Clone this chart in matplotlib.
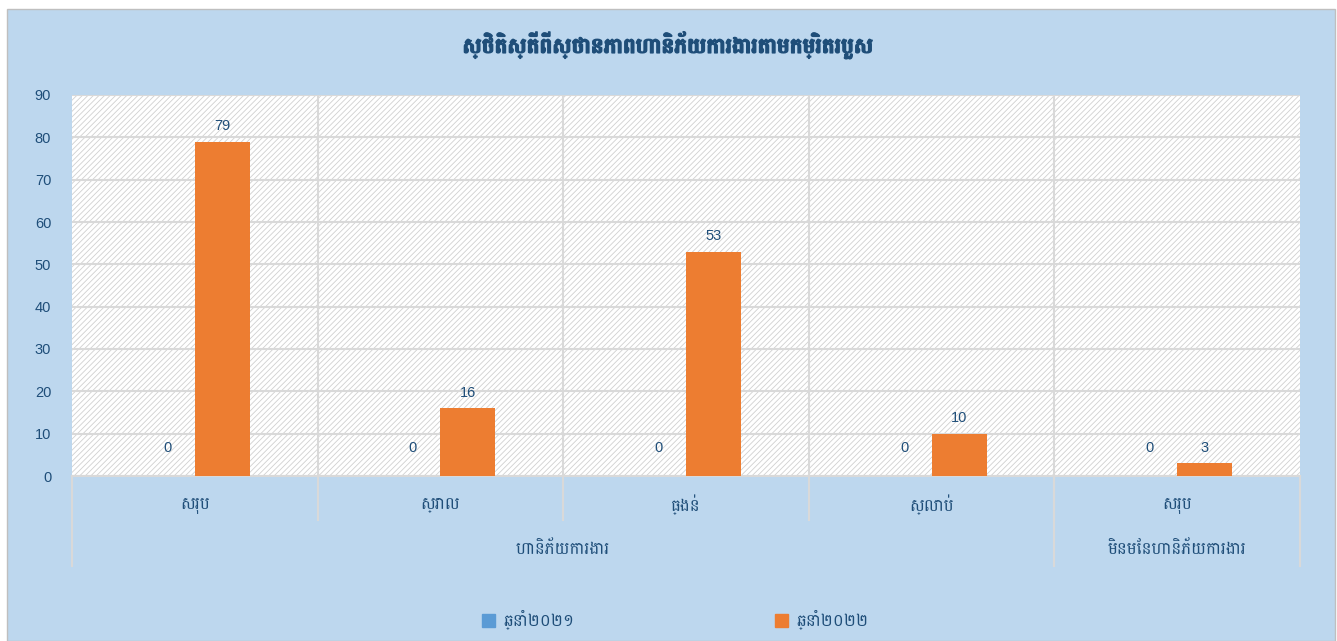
import matplotlib
matplotlib.use('Agg')

import matplotlib.pyplot as plt
from matplotlib import font_manager
from matplotlib.patches import Rectangle, Patch
import matplotlib.patheffects as pe
import matplotlib.transforms as mtransforms

# chart data
title = "ស្ថិតិស្តីពីស្ថានភាពហានិភ័យការងារតាមកម្រិតរបួស"
categories = ["សរុប", "ស្រាល", "ធ្ងន់", "ស្លាប់", "សរុប"]
groups = ["ហានិភ័យការងារ", "មិនមែនហានិភ័យការងារ"]
group_sizes = [4, 1]
series_names = ["ឆ្នាំ២០២១", "ឆ្នាំ២០២២"]
values_2021 = [0, 0, 0, 0, 0]
values_2022 = [79, 16, 53, 10, 3]
yticks = [0, 10, 20, 30, 40, 50, 60, 70, 80, 90]

BG = "#BDD7EE"
TXT = "#1F4E79"
GRID = "#D9D9D9"
colors = ["#5B9BD5", "#ED7D31"]

# pick an installed Khmer family
installed = {f.name for f in font_manager.fontManager.ttflist}
khmer = [f for f in ["Battambang", "Siemreap", "Suwannaphum"] if f in installed][:1]
KH = khmer + ["DejaVu Sans"]
NUM = ["Liberation Sans", "DejaVu Sans"]

plt.rcParams['font.family'] = NUM
plt.rcParams['hatch.linewidth'] = 0.6

W, H = 1337, 641
fig = plt.figure(figsize=(W / 100, H / 100), dpi=100, facecolor="white")
# chart frame
fig.patches.append(Rectangle((7 / W, 0), 1 - 9 / W, 1 - 9 / H, transform=fig.transFigure,
                             facecolor=BG, edgecolor="#BFBFBF", lw=1, zorder=-5))

ax = fig.add_axes([72 / W, (H - 476) / H, (1300 - 72) / W, (476 - 95) / H])
ax.set_facecolor("white")
ax.add_patch(Rectangle((0, 0), 1, 1, transform=ax.transAxes, facecolor="white",
                       edgecolor="#D0D0D0", hatch="//////", lw=0, zorder=0))

n = len(categories)
x = list(range(n))
bw = 0.224
b1 = ax.bar([i - bw / 2 for i in x], values_2021, bw, color=colors[0], zorder=3, label=series_names[0])
b2 = ax.bar([i + bw / 2 for i in x], values_2022, bw, color=colors[1], zorder=3, label=series_names[1])
ax.bar_label(b1, padding=15, fontsize=10.5, color=TXT)
ax.bar_label(b2, padding=6, fontsize=10.5, color=TXT)

ax.set_xlim(-0.5, n - 0.5)
ax.set_ylim(0, 90)
ax.set_yticks(yticks)
ax.tick_params(axis='y', length=0, labelsize=10.5, labelcolor=TXT, pad=15)
ax.set_xticks([])
ax.yaxis.grid(True, color=GRID, lw=1.5, zorder=1)
ax.set_axisbelow(True)
for s in ax.spines.values():
    s.set_visible(False)

# vertical separators inside plot
for i in range(1, n):
    ax.axvline(i - 0.5, color=GRID, lw=1.5, zorder=1)

# category axis (two levels)
trans = mtransforms.blended_transform_factory(ax.transData, ax.transAxes)
ax.plot([-0.5, n - 0.5], [0, 0], transform=trans, color=GRID, lw=1.5, clip_on=False, zorder=2)
for i, lab in enumerate(categories):
    ax.text(i, -0.075, lab, transform=trans, ha="center", va="center", fontsize=12,
            color=TXT, family=KH)
for i in range(1, n):
    ax.plot([i - 0.5, i - 0.5], [0, -0.115], transform=trans, color=GRID, lw=1.5, clip_on=False)
start = 0
bounds = [-0.5]
for g, size in zip(groups, group_sizes):
    mid = start + (size - 1) / 2
    ax.text(mid, -0.19, g, transform=trans, ha="center", va="center", fontsize=12,
            color=TXT, family=KH)
    start += size
    bounds.append(start - 0.5)
for b in bounds:
    ax.plot([b, b], [0, -0.235], transform=trans, color=GRID, lw=1.5, clip_on=False)

# title (stroke to thicken the Khmer glyphs)
fig.text(668 / W, 1 - 45 / H, title, ha="center", va="center", fontsize=15.5,
         fontweight="bold", color=TXT, family=KH,
         path_effects=[pe.withStroke(linewidth=0.9, foreground=TXT)])

# legend
handles = [Patch(color=c) for c in colors]
fig.legend(handles, series_names, loc="center", bbox_to_anchor=(0.505, 1 - 620 / H),
           ncol=2, frameon=False, prop={"family": KH, "size": 12}, labelcolor=TXT,
           handlelength=0.8, handleheight=0.8, handletextpad=0.5, columnspacing=12)

fig.savefig("out.png", dpi=100, facecolor=fig.get_facecolor())
